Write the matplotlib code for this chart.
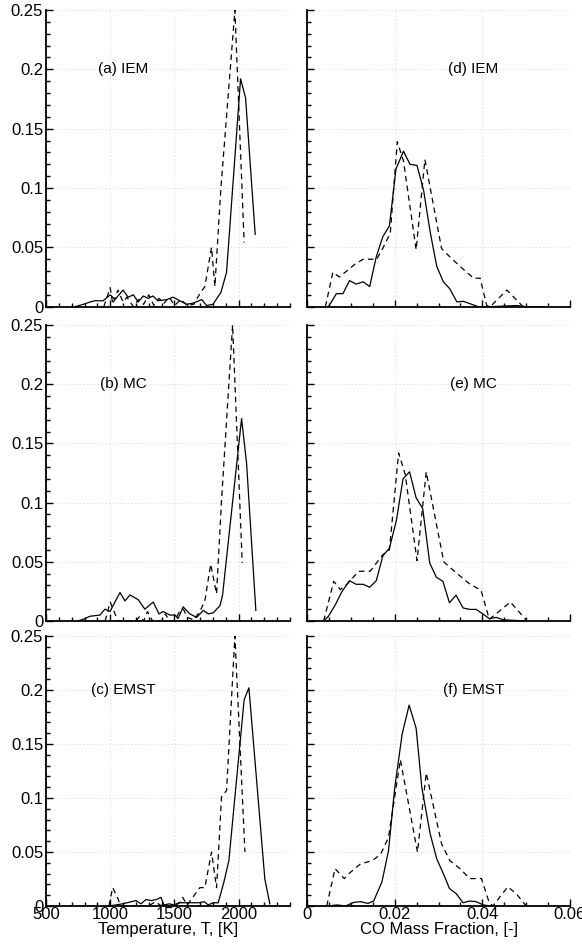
import matplotlib
matplotlib.use("Agg")
import matplotlib.pyplot as plt
from matplotlib.ticker import MultipleLocator, FuncFormatter

plt.rcParams['font.family'] = ['Liberation Sans', 'DejaVu Sans']
plt.rcParams['lines.scale_dashes'] = False

# ---------------- Temperature PDFs (left column) ----------------
Ta_s = [726, 790, 845, 880, 945, 1000, 1037, 1100, 1140, 1180, 1218, 1257, 1296, 1332, 1373,
        1440, 1490, 1543, 1595, 1645, 1713, 1750, 1800, 1862, 1906, 2015, 2054, 2129]
Pa_s = [0, 0.002, 0.004, 0.005, 0.005, 0.010, 0.006, 0.014, 0.008, 0.010, 0.004, 0.009, 0.007,
        0.009, 0.005, 0.006, 0.008, 0.005, 0.002, 0.003, 0.006, 0.001, 0.002, 0.012, 0.029,
        0.192, 0.176, 0.061]
Ta_d = [950, 1000, 1020, 1060, 1100, 1130, 1180, 1220, 1260, 1300, 1340, 1380, 1420, 1460,
        1500, 1550, 1600, 1650, 1698, 1737, 1789, 1815, 1862, 1971, 2043]
Pa_d = [0, 0.016, 0.002, 0.014, 0.004, 0.008, 0, 0.006, 0.002, 0.010, 0.001, 0.007, 0.003,
        0.008, 0.001, 0.006, 0.001, 0.002, 0.011, 0.017, 0.050, 0.017, 0.100, 0.250, 0.054]

Tb_s = [750, 803, 842, 920, 959, 998, 1076, 1115, 1154, 1218, 1270, 1335, 1380, 1412, 1465,
        1504, 1528, 1568, 1620, 1673, 1725, 1764, 1803, 1855, 1875, 2023, 2062, 2134]
Pb_s = [0, 0.002, 0.004, 0.005, 0.010, 0.008, 0.024, 0.017, 0.022, 0.018, 0.010, 0.016, 0.006,
        0.008, 0.005, 0.005, 0.002, 0.012, 0.006, 0.003, 0.009, 0.006, 0.007, 0.013, 0.022,
        0.171, 0.133, 0.009]
Tb_d = [960, 1000, 1030, 1060, 1100, 1200, 1230, 1260, 1290, 1330, 1400, 1430, 1460, 1500,
        1540, 1570, 1600, 1650, 1698, 1737, 1782, 1828, 1867, 1953, 2028]
Pb_d = [0, 0.016, 0.008, 0, 0, 0, 0.004, 0, 0.008, 0, 0, 0.006, 0, 0, 0.008, 0.010, 0.003,
        0.001, 0.008, 0.017, 0.048, 0.023, 0.102, 0.250, 0.049]

Tc_s = [990, 1097, 1200, 1240, 1278, 1320, 1360, 1395, 1418, 1460, 1496, 1535, 1600, 1650,
        1690, 1732, 1763, 1802, 1841, 1885, 1924, 2043, 2080, 2204, 2243]
Pc_s = [0, 0.002, 0.005, 0.002, 0.006, 0.005, 0.006, 0.008, 0.001, 0.002, 0.001, 0.003, 0.003,
        0.003, 0.003, 0.004, 0.001, 0.003, 0.003, 0.022, 0.042, 0.191, 0.202, 0.025, 0.002]
Tc_d = [990, 1019, 1060, 1080, 1200, 1300, 1350, 1400, 1500, 1540, 1564, 1600, 1698, 1737,
        1789, 1828, 1867, 1906, 1971, 2049]
Pc_d = [0, 0.017, 0.007, 0, 0, 0, 0.004, 0, 0, 0.003, 0.008, 0.001, 0.017, 0.017, 0.050,
        0.017, 0.101, 0.107, 0.250, 0.050]

# ---------------- CO mass fraction PDFs (right column) ----------------
Xd_s = [0.0049, 0.0067, 0.0082, 0.0097, 0.0112, 0.0128, 0.0143, 0.0158, 0.0173, 0.0188, 0.0203,
        0.0220, 0.0235, 0.0251, 0.0266, 0.0281, 0.0296, 0.0311, 0.0326, 0.0342, 0.0357, 0.0372,
        0.0391, 0.0418, 0.0448, 0.0478, 0.0500, 0.0540]
Yd_s = [0, 0.011, 0.011, 0.022, 0.019, 0.021, 0.017, 0.042, 0.059, 0.068, 0.116, 0.131, 0.120,
        0.119, 0.098, 0.063, 0.034, 0.021, 0.015, 0.004, 0.0045, 0.0025, 0, 0, 0.0005, 0.001, 0, 0]
Xd_d = [0.0042, 0.0059, 0.0074, 0.0110, 0.0128, 0.0159, 0.0174, 0.0190, 0.0206, 0.0220, 0.0249,
        0.0269, 0.0307, 0.0326, 0.0349, 0.0380, 0.0395, 0.0410, 0.0418, 0.0456, 0.0493]
Yd_d = [0, 0.029, 0.025, 0.036, 0.040, 0.040, 0.050, 0.062, 0.139, 0.123, 0.048, 0.124, 0.049,
        0.042, 0.034, 0.024, 0.024, 0.001, 0, 0.014, 0]

Xe_s = [0.0038, 0.0049, 0.0065, 0.0080, 0.0097, 0.0112, 0.0128, 0.0143, 0.0158, 0.0173, 0.0188,
        0.0204, 0.0219, 0.0234, 0.0249, 0.0264, 0.0280, 0.0295, 0.0310, 0.0325, 0.0340, 0.0356,
        0.0371, 0.0386, 0.0401, 0.0416, 0.0432, 0.0448, 0.0500]
Ye_s = [0, 0.004, 0.014, 0.025, 0.034, 0.031, 0.031, 0.0285, 0.034, 0.055, 0.0615, 0.085, 0.120,
        0.126, 0.104, 0.095, 0.049, 0.037, 0.0335, 0.0154, 0.0218, 0.011, 0.0098, 0.0098, 0.006,
        0.002, 0.003, 0.001, 0]
Xe_d = [0.0038, 0.0061, 0.0076, 0.0091, 0.0118, 0.0144, 0.0173, 0.0188, 0.0209, 0.0224, 0.0251,
        0.0272, 0.0312, 0.0327, 0.0346, 0.0372, 0.0397, 0.0416, 0.0464, 0.0502]
Ye_d = [0, 0.0335, 0.0265, 0.031, 0.042, 0.042, 0.056, 0.060, 0.142, 0.124, 0.051, 0.126, 0.050,
        0.045, 0.039, 0.031, 0.026, 0.0014, 0.016, 0]

Xf_s = [0.0047, 0.0069, 0.0088, 0.0107, 0.0122, 0.0139, 0.0152, 0.0171, 0.0186, 0.0200, 0.0217,
        0.0233, 0.0249, 0.0262, 0.0281, 0.0296, 0.0311, 0.0325, 0.0340, 0.0356, 0.0371, 0.0386,
        0.0402, 0.0420]
Yf_s = [0, 0.001, 0, 0.0034, 0.004, 0.0024, 0.0046, 0.0223, 0.0514, 0.109, 0.159, 0.186, 0.1645,
        0.1095, 0.0667, 0.0437, 0.030, 0.0162, 0.0116, 0.003, 0.0046, 0.004, 0.001, 0]
Xf_d = [0.0045, 0.0064, 0.0085, 0.0100, 0.0122, 0.0149, 0.0168, 0.0186, 0.0213, 0.0252, 0.0272,
        0.0307, 0.0326, 0.0349, 0.0371, 0.0398, 0.0415, 0.0424, 0.0458, 0.0477, 0.0500]
Yf_d = [0, 0.0346, 0.0254, 0.0315, 0.039, 0.042, 0.048, 0.0636, 0.1355, 0.0498, 0.1232, 0.0575,
        0.042, 0.0346, 0.0254, 0.0254, 0.004, 0, 0.0177, 0.0116, 0]

left_labels = ["(a) IEM", "(b) MC", "(c) EMST"]
right_labels = ["(d) IEM", "(e) MC", "(f) EMST"]
left_series = [(Ta_s, Pa_s, Ta_d, Pa_d), (Tb_s, Pb_s, Tb_d, Pb_d), (Tc_s, Pc_s, Tc_d, Pc_d)]
right_series = [(Xd_s, Yd_s, Xd_d, Yd_d), (Xe_s, Ye_s, Xe_d, Ye_d), (Xf_s, Yf_s, Xf_d, Yf_d)]

W, H = 582, 948
fig = plt.figure(figsize=(W / 100, H / 100), dpi=100)

# rows: (top px, bottom px)
rows = [(10, 306.7), (325, 621), (636, 906)]
left_x = (46, 290)
right_x = (307, 570)


def yfmt(v, pos):
    if abs(v) < 1e-9:
        return "0"
    return ("%.2f" % v).rstrip("0")


def style(ax, xmin, xmax, xmajor, xminor, show_x, show_y, xfmt):
    ax.set_ylim(0, 0.25)
    ax.set_xlim(xmin, xmax)
    for s in ["top", "right"]:
        ax.spines[s].set_visible(False)
    for s in ["left", "bottom"]:
        ax.spines[s].set_linewidth(1.3)
    ax.yaxis.set_major_locator(MultipleLocator(0.05))
    ax.yaxis.set_minor_locator(MultipleLocator(0.01))
    ax.xaxis.set_major_locator(MultipleLocator(xmajor))
    ax.xaxis.set_minor_locator(MultipleLocator(xminor))
    ax.tick_params(which="both", direction="in", top=False, right=False, width=1.0,
                   labelsize=12)
    ax.tick_params(which="major", length=5)
    ax.tick_params(which="minor", length=2.8)
    ax.tick_params(axis="y", pad=2)
    ax.tick_params(axis="x", pad=1)
    ax.yaxis.set_major_formatter(FuncFormatter(yfmt))
    ax.xaxis.set_major_formatter(FuncFormatter(xfmt))
    ax.grid(True, which="major", color="#dedede", linestyle=":", linewidth=0.7)
    ax.set_axisbelow(True)
    if not show_x:
        ax.tick_params(axis="x", labelbottom=False)
    if not show_y:
        ax.tick_params(axis="y", labelleft=False)


def tfmt(v, pos):
    return "%d" % round(v)


def cfmt(v, pos):
    if abs(v) < 1e-9:
        return "0"
    return ("%.2f" % v)


for i, (top, bot) in enumerate(rows):
    b = (H - bot) / H
    h = (bot - top) / H
    axl = fig.add_axes([left_x[0] / W, b, (left_x[1] - left_x[0]) / W, h])
    axr = fig.add_axes([right_x[0] / W, b, (right_x[1] - right_x[0]) / W, h])
    last = (i == len(rows) - 1)

    style(axl, 500, 2400, 500, 100, last, True, tfmt)
    style(axr, 0, 0.06, 0.02, 0.005, last, False, cfmt)

    xs, ys, xd, yd = left_series[i]
    axl.plot(xs, ys, color="black", lw=0.9, clip_on=True)
    axl.plot(xd, yd, color="black", lw=0.9, dashes=(4, 3), clip_on=True)
    axl.text(1100, 0.2, left_labels[i], fontsize=11, ha="center", va="center")

    xs, ys, xd, yd = right_series[i]
    axr.plot(xs, ys, color="black", lw=0.9)
    axr.plot(xd, yd, color="black", lw=0.9, dashes=(4, 3))
    axr.text(0.038, 0.2, right_labels[i], fontsize=11, ha="center", va="center")

    if last:
        axl.set_xlabel("Temperature, T, [K]", fontsize=12, labelpad=0)
        axr.set_xlabel("CO Mass Fraction, [-]", fontsize=12, labelpad=0)

fig.savefig("out.png", dpi=100)
